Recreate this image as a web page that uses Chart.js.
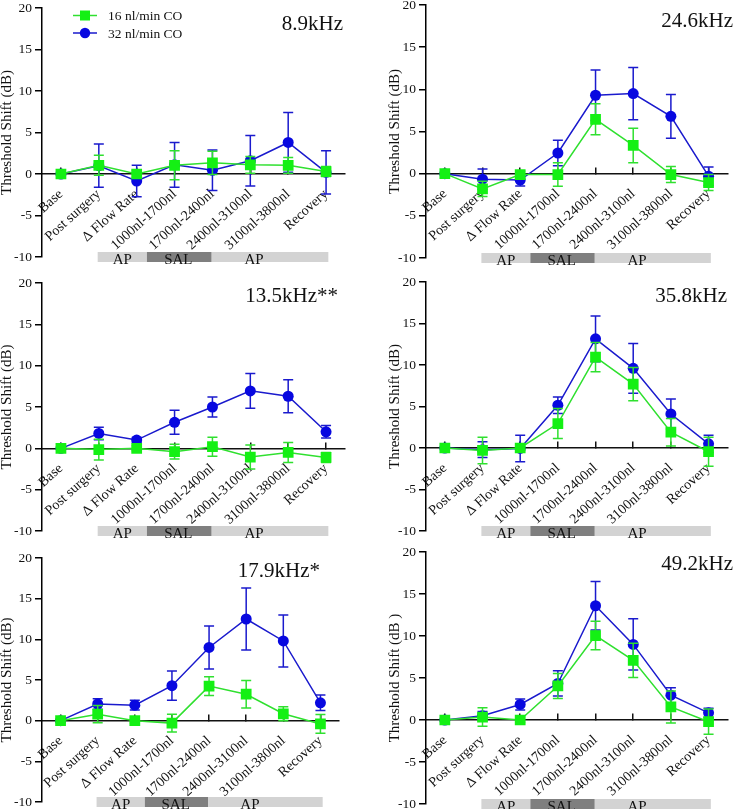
<!DOCTYPE html>
<html>
<head>
<meta charset="utf-8">
<script src="https://cdn.jsdelivr.net/npm/chart.js@4.4.1/dist/chart.umd.min.js"></script>
<style>
  body { margin: 0; background: #fff; }
  #wrap { position: relative; width: 735px; height: 809px; overflow: hidden; background: #fff; }
  #wrap canvas { position: absolute; }
</style>
</head>
<body>
<div id="wrap"></div>
<script>
// ---------- data ----------
var categories = ['Base', 'Post surgery', '\u0394 Flow Rate', '1000nl-1700nl', '1700nl-2400nl', '2400nl-3100nl', '3100nl-3800nl', 'Recovery'];
var seriesNames = ['16 nl/min CO', '32 nl/min CO'];
var panelTitles = ['8.9kHz', '24.6kHz', '13.5kHz**', '35.8kHz', '17.9kHz*', '49.2kHz'];
var yTicks = [-10, -5, 0, 5, 10, 15, 20];

// drug phases under the x axis (category units)
var phaseLabels = ['AP', 'SAL', 'AP'];
var phaseStart = [0.97, 2.27, 3.98];
var phaseEnd = [2.27, 3.98, 7.06];
var phaseLabelAt = [1.62, 3.1, 5.1];

// 8.9 kHz
var green_8_9 = [0, 1.05, 0, 1.05, 1.35, 1.1, 1.05, 0.3];
var green_8_9_sem = [0, 1.2, 0.4, 1.75, 1.4, 1.0, 0.95, 0.6];
var blue_8_9 = [0, 1.0, -0.85, 1.1, 0.45, 1.6, 3.8, 0.2];
var blue_8_9_sem = [0, 2.6, 1.9, 2.7, 2.45, 3.05, 3.6, 2.6];

// 24.6 kHz
var green_24_6 = [0, -1.8, -0.1, -0.1, 6.45, 3.35, -0.1, -1.05];
var green_24_6_sem = [0, 0.9, 0.4, 1.4, 1.85, 2.05, 0.95, 0.95];
var blue_24_6 = [0, -0.65, -0.75, 2.45, 9.3, 9.5, 6.8, -0.3];
var blue_24_6_sem = [0, 1.2, 0.7, 1.5, 3.0, 3.1, 2.6, 1.1];

// 13.5 kHz
var green_13_5 = [0, -0.15, 0, -0.4, 0.2, -1.05, -0.5, -1.1];
var green_13_5_sem = [0, 1.25, 0.3, 0.9, 1.15, 1.45, 1.2, 0.6];
var blue_13_5 = [0, 1.8, 1.0, 3.15, 5.0, 6.95, 6.3, 2.0];
var blue_13_5_sem = [0, 0.75, 0.3, 1.45, 1.2, 2.1, 2.0, 0.75];

// 35.8 kHz
var green_35_8 = [0, -0.3, 0, 2.95, 10.95, 7.7, 1.9, -0.45];
var green_35_8_sem = [0, 1.6, 0.3, 1.8, 1.75, 2.0, 1.65, 1.75];
var blue_35_8 = [0, -0.2, -0.05, 5.15, 13.15, 9.6, 4.1, 0.5];
var blue_35_8_sem = [0, 0.95, 1.6, 1.0, 2.75, 3.0, 1.8, 1.05];

// 17.9 kHz
var green_17_9 = [0, 0.8, 0, -0.3, 4.25, 3.25, 0.85, -0.4];
var green_17_9_sem = [0, 1.05, 0.3, 1.1, 1.15, 1.7, 0.85, 1.15];
var blue_17_9 = [0, 2.05, 1.9, 4.3, 9.0, 12.5, 9.8, 2.2];
var blue_17_9_sem = [0, 0.65, 0.6, 1.8, 2.65, 3.8, 3.2, 0.95];

// 49.2 kHz
var green_49_2 = [0, 0.35, 0, 4.05, 10.05, 7.1, 1.55, -0.2];
var green_49_2_sem = [0, 1.1, 0.3, 1.5, 1.7, 2.05, 1.9, 1.5];
var blue_49_2 = [0, 0.5, 1.85, 4.35, 13.6, 9.0, 2.95, 0.85];
var blue_49_2_sem = [0, 0.5, 0.65, 1.5, 2.9, 3.05, 0.9, 0.55];

// ---------- look ----------
var SERIF = "'Liberation Serif', 'Times New Roman', serif";
var greenLine = '#2fe02f', greenFill = '#14f014';
var blueLine = '#1a1acd', blueFill = '#0808e0';
var phaseColors = ['#d3d3d3', '#7f7f7f', '#d3d3d3'];

// box = canvas rect [x, y, w, h]; area = chart area [left, right, top, bottom] (page px)
var panels = [
  { green: green_8_9, greenErr: green_8_9_sem, blue: blue_8_9, blueErr: blue_8_9_sem,
    box: [0, -10, 367, 290], area: [42, 345, 8, 257], titleAt: [343, 30], yTitle: 'Threshold Shift (dB)', legend: true },
  { green: green_24_6, greenErr: green_24_6_sem, blue: blue_24_6, blueErr: blue_24_6_sem,
    box: [367, -10, 368, 290], area: [426, 735, 5, 258], titleAt: [733, 27], yTitle: 'Threshold Shift (dB)' },
  { green: green_13_5, greenErr: green_13_5_sem, blue: blue_13_5, blueErr: blue_13_5_sem,
    box: [0, 260, 367, 290], area: [42, 345, 283, 531], titleAt: [338, 302], yTitle: 'Threshold Shift (dB)' },
  { green: green_35_8, greenErr: green_35_8_sem, blue: blue_35_8, blueErr: blue_35_8_sem,
    box: [367, 260, 368, 290], area: [426, 732, 282, 531], titleAt: [727, 302], yTitle: 'Threshold Shift (dB)' },
  { green: green_17_9, greenErr: green_17_9_sem, blue: blue_17_9, blueErr: blue_17_9_sem,
    box: [0, 530, 367, 289], area: [42, 339, 558, 802], titleAt: [320, 577], yTitle: 'Threshold Shift (dB)' },
  { green: green_49_2, greenErr: green_49_2_sem, blue: blue_49_2, blueErr: blue_49_2_sem,
    box: [367, 530, 368, 289], area: [426, 735, 552, 804], titleAt: [733, 570], yTitle: 'Threshold Shift (dB )' }
];

// error bars, phase strip, panel title and legend
var extras = {
  id: 'extras',
  beforeDatasetDraw: function (chart, args) {
    var opts = chart.options.plugins.extras;
    var errs = opts.errors[args.index];
    var ds = chart.data.datasets[args.index];
    var y = chart.scales.y;
    var ctx = chart.ctx;
    ctx.save();
    ctx.strokeStyle = ds.borderColor;
    ctx.lineWidth = 1.5;
    ctx.beginPath();
    args.meta.data.forEach(function (pt, i) {
      var e = errs[i];
      if (!e) return;
      var top = y.getPixelForValue(ds.data[i] + e);
      var bot = y.getPixelForValue(ds.data[i] - e);
      ctx.moveTo(pt.x, top); ctx.lineTo(pt.x, bot);
      ctx.moveTo(pt.x - 5, top); ctx.lineTo(pt.x + 5, top);
      ctx.moveTo(pt.x - 5, bot); ctx.lineTo(pt.x + 5, bot);
    });
    ctx.stroke();
    ctx.restore();
  },
  afterDraw: function (chart) {
    var opts = chart.options.plugins.extras;
    var ctx = chart.ctx;
    var x = chart.scales.x;
    var y0 = chart.scales.y.getPixelForValue(-10);
    ctx.save();
    // AP / SAL strip
    for (var i = 0; i < phaseLabels.length; i++) {
      var a = x.getPixelForValue(phaseStart[i]);
      var b = x.getPixelForValue(phaseEnd[i]);
      ctx.fillStyle = phaseColors[i];
      ctx.fillRect(a, y0 - 5, b - a, 10);
    }
    ctx.fillStyle = '#111';
    ctx.font = '15px ' + SERIF;
    ctx.textAlign = 'center';
    ctx.textBaseline = 'alphabetic';
    for (var j = 0; j < phaseLabels.length; j++) {
      ctx.fillText(phaseLabels[j], x.getPixelForValue(phaseLabelAt[j]), y0 + 7);
    }
    // frequency title
    ctx.font = '21px ' + SERIF;
    ctx.textAlign = 'right';
    ctx.fillText(opts.title, opts.titleAt[0], opts.titleAt[1]);
    // legend (first panel only)
    if (opts.legend) {
      var lx = opts.legendAt[0], ly = opts.legendAt[1];
      var rows = [[greenLine, greenFill, 'rect'], [blueLine, blueFill, 'circle']];
      rows.forEach(function (r, k) {
        var yy = ly + k * 17.5;
        ctx.strokeStyle = r[0];
        ctx.lineWidth = 1.5;
        ctx.beginPath();
        ctx.moveTo(lx, yy); ctx.lineTo(lx + 24, yy);
        ctx.stroke();
        ctx.fillStyle = r[1];
        if (r[2] === 'rect') {
          ctx.fillRect(lx + 7, yy - 5, 10, 10);
        } else {
          ctx.beginPath();
          ctx.arc(lx + 12, yy, 5.2, 0, Math.PI * 2);
          ctx.fill();
        }
        ctx.fillStyle = '#111';
        ctx.font = '13.5px ' + SERIF;
        ctx.textAlign = 'left';
        ctx.textBaseline = 'middle';
        ctx.fillText(seriesNames[k], lx + 35, yy + 1);
      });
    }
    ctx.restore();
  }
};

var wrap = document.getElementById('wrap');

panels.forEach(function (p, n) {
  var bx = p.box[0], by = p.box[1], bw = p.box[2], bh = p.box[3];
  var cv = document.createElement('canvas');
  cv.width = bw; cv.height = bh;
  cv.style.left = bx + 'px'; cv.style.top = by + 'px';
  cv.style.width = bw + 'px'; cv.style.height = bh + 'px';
  wrap.appendChild(cv);

  var yWidth = p.area[0] - bx;
  var yTitlePad = bx === 0 ? 0 : 20.5;

  new Chart(cv, {
    type: 'line',
    data: {
      labels: categories,
      datasets: [
        { label: seriesNames[0], data: p.green, borderColor: greenLine, backgroundColor: greenFill,
          borderWidth: 1.5, pointStyle: 'rect', pointRadius: 7.6, pointBorderWidth: 0, tension: 0 },
        { label: seriesNames[1], data: p.blue, borderColor: blueLine, backgroundColor: blueFill,
          borderWidth: 1.5, pointStyle: 'circle', pointRadius: 5.5, pointBorderWidth: 0, tension: 0 }
      ]
    },
    options: {
      responsive: false,
      animation: false,
      devicePixelRatio: 1,
      events: [],
      layout: {
        padding: {
          left: 0,
          right: bx + bw - p.area[1],
          top: p.area[2] - by,
          bottom: by + bh - p.area[3]
        }
      },
      plugins: {
        legend: { display: false },
        tooltip: { enabled: false },
        extras: {
          errors: [p.greenErr, p.blueErr],
          title: panelTitles[n],
          titleAt: [p.titleAt[0] - bx, p.titleAt[1] - by],
          legend: !!p.legend,
          legendAt: [73 - bx, 15.5 - by]
        }
      },
      scales: {
        x: {
          type: 'category',
          offset: true,
          position: { y: 0 },
          ticks: { autoSkip: false, minRotation: 42, maxRotation: 42, padding: 19,
                   color: '#111', font: { family: SERIF, size: 14 } },
          grid: { display: true, drawOnChartArea: false, drawTicks: true, tickLength: -7,
                  color: '#111', lineWidth: 1.5 },
          border: { display: true, color: '#111', width: 1.5 },
          afterFit: function (s) { s.height = 0; s.paddingLeft = 0; s.paddingRight = 0; }
        },
        y: {
          min: -10,
          max: 20,
          afterBuildTicks: function (s) { s.ticks = yTicks.map(function (v) { return { value: v }; }); },
          ticks: { padding: 3, color: '#111', font: { family: SERIF, size: 13.5 } },
          grid: { display: true, drawOnChartArea: false, drawTicks: true, tickLength: 7,
                  color: '#000', lineWidth: 1.5 },
          border: { display: true, color: '#000', width: 1.5 },
          title: { display: true, text: p.yTitle, color: '#111',
                   font: { family: SERIF, size: 15, lineHeight: 1 },
                   padding: { top: yTitlePad, bottom: 0 } },
          afterFit: function (s) { s.width = yWidth; s.paddingTop = 0; s.paddingBottom = 0; }
        }
      }
    },
    plugins: [extras]
  });
});
</script>
</body>
</html>
